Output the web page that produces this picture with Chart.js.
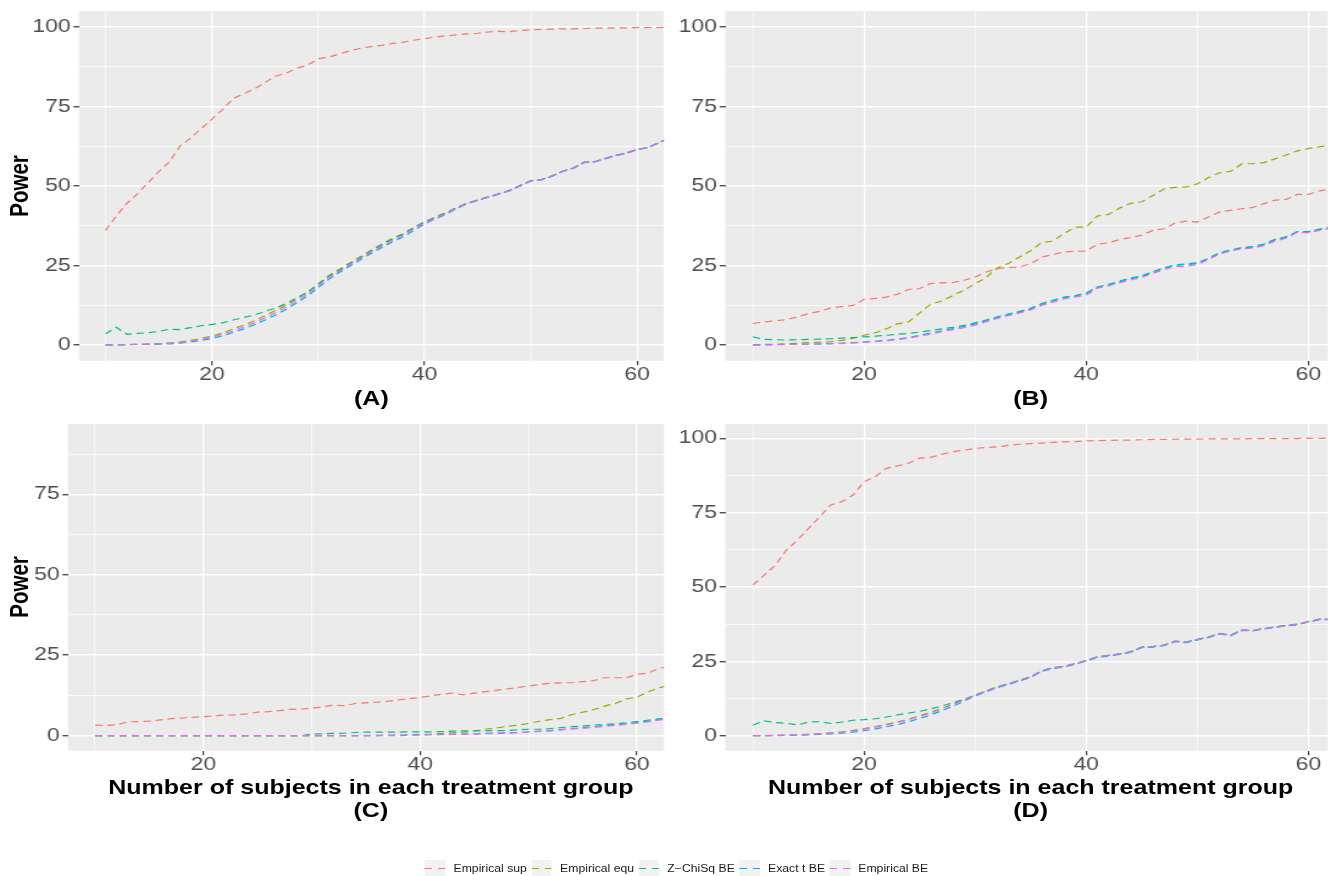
<!DOCTYPE html>
<html><head><meta charset="utf-8">
<script src="https://cdn.jsdelivr.net/npm/chart.js@4.4.0/dist/chart.umd.min.js"></script>
<style>
html,body{margin:0;padding:0;background:#fff;overflow:hidden;width:1328px;height:876px;}
#wrap{position:absolute;left:0;top:0;width:1088.5px;height:876px;transform:scaleX(1.22);transform-origin:0 0;font-family:"Liberation Sans",Arial,Helvetica,sans-serif;}
canvas{position:absolute;}
.t{position:absolute;white-space:nowrap;font-weight:bold;color:#000;font-size:20.5px;line-height:20.5px;transform:translate(-50%,-50%);}
.rot{transform:translate(-50%,-50%) rotate(-90deg);}
#legend{position:absolute;top:859px;left:348.4px;display:flex;align-items:center;height:18px;font-size:10px;color:#1a1a1a;white-space:nowrap;}
.key{width:16.4px;height:17px;background:#f2f2f2;position:relative;flex:none;}
.key i{position:absolute;left:0;right:0;top:8px;height:1.3px;}
.lab{margin-left:7px;margin-right:3.9px;}
</style></head>
<body>
<div id="wrap">
  <canvas id="cA" width="546" height="420" style="left:0px;top:0px;width:546px;height:420px"></canvas>
  <canvas id="cB" width="541" height="420" style="left:548px;top:0px;width:541px;height:420px"></canvas>
  <canvas id="cC" width="546" height="420" style="left:0px;top:410px;width:546px;height:420px"></canvas>
  <canvas id="cD" width="541" height="420" style="left:548px;top:410px;width:541px;height:420px"></canvas>
  <div class="t rot" style="left:15.6px;top:185.9px">Power</div>
  <div class="t rot" style="left:15.6px;top:587.3px">Power</div>
  <div class="t" style="left:304.4px;top:398px">(A)</div>
  <div class="t" style="left:844.8px;top:398px">(B)</div>
  <div class="t" style="left:304px;top:787px">Number of subjects in each treatment group</div>
  <div class="t" style="left:304px;top:810px">(C)</div>
  <div class="t" style="left:844.8px;top:787px">Number of subjects in each treatment group</div>
  <div class="t" style="left:844.8px;top:810px">(D)</div>
  <div id="legend"></div>
</div>
<script>
const xs = [10,11,12,13,14,15,16,17,18,19,20,21,22,23,24,25,26,27,28,29,30,31,32,33,34,35,36,37,38,39,40,41,42,43,44,45,46,47,48,49,50,51,52,53,54,55,56,57,58,59,60,61,62,63];
const seriesNames = ['Empirical sup','Empirical equ','Z\u2212ChiSq BE','Exact t BE','Empirical BE'];
const colors = ['#F8766D','#A3A500','#00BF7D','#00B0F6','#E76BF3'];
const xTicks = [10,20,30,40,50,60];
const yTicks = [0,12.5,25,37.5,50,62.5,75,87.5,100];

const A_sup = [36,40.5,44.5,47.5,51,54.5,57.5,62.5,65,68, 71,74,77.5,79,80.5,82.5,84.5,85.5,87,88, 90,90.5,91.5,92.5,93.3,93.8,94.2,94.8,95.2,95.8, 96.3,96.8,97.2,97.5,97.8,98,98.4,98.6,98.5,98.9, 99.1,99.2,99.3,99.4,99.4,99.5,99.6,99.6,99.7,99.7, 99.8,99.8,99.8,99.9];
const A_equ = [0,0,0.1,0.2,0.3,0.4,0.6,0.9,1.4,2, 2.8,3.7,5,6.2,7.6,9.2,10.8,12.5,14.5,16.5, 19.2,21.8,23.8,25.8,27.8,29.8,31.8,33.6,35,37, 38.8,40.2,41.6,43.2,44.6,45.6,46.6,47.6,48.6,50.2, 51.6,52,53.2,54.6,55.6,57.4,57.6,58.6,59.6,60.2, 61.5,62,63.5,65];
const A_z = [3.5,5.5,3.3,3.6,3.8,4.2,4.9,4.8,5.4,6, 6.4,6.9,7.8,8.6,9.4,10.5,11.6,13,14.8,16.6, 19,21.5,23.5,25.5,27.5,29.5,31.5,33.3,34.8,36.8, 38.6,40,41.4,43.1,44.5,45.5,46.5,47.5,48.5,50.1, 51.6,52,53.1,54.6,55.6,57.4,57.6,58.6,59.6,60.3, 61.5,62,63.5,65];
const A_t = [0,0,0,0.1,0.1,0.2,0.3,0.5,0.9,1.4, 2,2.8,3.9,5,6.3,7.8,9.4,11.2,13.2,15.4, 18,20.6,22.8,24.8,26.8,28.8,30.6,32.4,34,36, 38,39.6,41,42.8,44.4,45.4,46.4,47.4,48.6,50, 51.6,51.9,53,54.6,55.6,57.4,57.6,58.6,59.6,60.4, 61.5,62,63.6,65];
const A_be = [0,0,0.1,0.1,0.2,0.3,0.5,0.7,1.1,1.7, 2.4,3.3,4.4,5.6,6.9,8.5,10.1,11.9,13.9,16, 18.6,21.2,23.2,25.2,27.2,29.2,31,32.8,34.4,36.4, 38.4,39.8,41.3,43,44.5,45.5,46.5,47.5,48.4,50, 51.5,52,53.1,54.5,55.5,57.3,57.5,58.5,59.5,60.3, 61.4,62,63.5,65];

const B_sup = [6.7,7.2,7.6,7.9,8.8,9.8,10.5,11.6,12,12.4, 14.3,14.6,15,15.9,17.4,17.7,19.3,19.5,19.6,20.3, 21.3,22.9,24,24.3,24.5,25.5,27.6,28.4,29.2,29.4, 29.5,31.6,32.1,33.1,33.7,34.5,36,36.5,38.3,38.9, 38.6,40.2,41.8,42.3,42.8,43.2,44.4,45.5,45.7,47.3, 47.3,48.4,49,49.5];
const B_equ = [0,0.1,0.2,0.3,0.5,0.7,0.8,1,1.4,2, 3,3.8,5,6.6,7.2,10,12.8,13.8,15.5,17.2, 19.2,21.2,24.2,25.6,27.6,29.6,32.2,32.6,35,37, 37,40.5,41,43,44.5,45,47,49,49.5,49.7, 50.6,52.6,54.1,54.6,56.9,57,57.3,58.5,59.7,61, 61.7,62.3,62.8,63.5];
const B_z = [2.5,1.7,1.6,1.5,1.6,1.7,1.8,1.9,2.1,2.3, 2.5,2.7,3,3.3,3.6,4,4.5,5,5.5,6.1, 6.9,7.8,8.8,9.7,10.5,11.5,13,14,15,15.5, 16.3,18.2,19,20,21,21.7,23,24.2,25.2,25.4, 25.8,27.2,29,29.8,30.6,30.9,31.7,33.2,34,35.6, 35.6,36.4,37.1,37.6];
const B_t = [0,0,0.1,0.1,0.2,0.2,0.3,0.4,0.5,0.7, 0.9,1.1,1.4,1.8,2.3,3,3.7,4.4,5.1,5.8, 6.6,7.6,8.6,9.5,10.3,11.3,12.8,13.8,14.8,15.3, 16.1,18,18.8,19.8,20.8,21.5,22.8,24,25,25.2, 25.6,27,28.8,29.6,30.4,30.7,31.5,33,33.8,35.4, 35.4,36.2,36.9,37.4];
const B_be = [0,0,0,0.1,0.1,0.2,0.2,0.3,0.4,0.6, 0.8,1,1.3,1.6,2.1,2.7,3.4,4.1,4.8,5.4, 6.2,7.3,8.3,9.2,10,11,12.4,13.4,14.4,15, 15.6,17.8,18.5,19.5,20.4,21.2,22.5,23.6,24.6,24.6, 25.3,26.8,28.6,29.5,30.2,30.4,31.2,32.6,33.5,35.4, 35.2,36,36.6,37.2];

const C_sup = [3.3,3.2,3.4,4.3,4.4,4.5,4.9,5.3,5.5,5.7, 5.9,6.2,6.4,6.5,6.8,7.3,7.5,7.8,8.2,8.3, 8.5,9,9.5,9.3,10,10.2,10.4,10.7,11.1,11.5, 11.9,12.4,12.9,13.2,12.7,13.2,13.7,14.1,14.5,15, 15.4,15.9,16.3,16.4,16.5,16.8,17.1,18,18,18, 19.1,19.4,20.9,21.5];
const C_equ = [0,0,0,0,0,0,0,0,0,0, 0,0,0,0,0,0,0,0,0,0, 0,0,0,0,0,0,0,0,0,0.2, 0.4,0.5,0.7,0.9,1.1,1.5,2,2.4,2.9,3.3, 3.8,4.5,5,5.4,6.6,7.3,8.1,9.2,10,11.4, 12,13.6,14.9,15.6];
const C_z = [0,0,0,0,0,0,0,0,0,0, 0,0,0,0,0,0,0,0,0,0, 0.5,0.6,0.7,0.8,1,1.1,1.1,1.1,1.1,1.2, 1.2,1.2,1.3,1.4,1.5,1.5,1.5,1.6,1.6,1.8, 2,2,2.2,2.5,2.8,3,3.3,3.5,3.7,4, 4.4,4.8,5.2,5.6];
const C_t = [0,0,0,0,0,0,0,0,0,0, 0,0,0,0,0,0,0,0,0,0, 0,0,0,0,0,0.05,0.1,0.1,0.2,0.2, 0.3,0.3,0.4,0.4,0.5,0.6,0.7,0.8,0.9,1, 1.2,1.4,1.6,1.9,2.2,2.5,2.8,3.1,3.4,3.7, 4.1,4.5,5,5.5];
const C_be = [0,0,0,0,0,0,0,0,0,0, 0,0,0,0,0,0,0,0,0,0, 0,0,0,0,0,0,0.05,0.1,0.1,0.2, 0.2,0.3,0.3,0.4,0.5,0.5,0.6,0.7,0.8,0.9, 1.1,1.3,1.5,1.8,2.1,2.3,2.6,2.9,3.2,3.5, 3.9,4.3,4.8,5.3];

const D_sup = [50.7,54,57.3,62.4,65.8,69.7,73.6,77.6,78.7,80.9, 85.4,87.1,89.9,90.7,91.6,93.3,93.6,94.6,95.5,96, 96.6,96.9,97.1,97.6,98,98.2,98.4,98.6,98.8,98.9, 99.1,99.2,99.3,99.4,99.4,99.5,99.6,99.6,99.7,99.7, 99.7,99.8,99.8,99.8,99.8,99.9,99.9,99.9,99.9,99.9, 100,100,100,100];
const D_equ = [0,0.05,0.1,0.2,0.3,0.5,0.7,1,1.3,1.8, 2.4,3.1,3.8,4.6,5.6,6.7,7.9,9.2,10.7,12.2, 13.7,15.1,16.5,17.5,18.7,19.9,21.9,22.9,23.3,24.3, 25.3,26.5,27,27.5,28.2,29.8,30,30.5,31.8,31.4, 32.3,33.1,34.3,33.7,35.5,35.3,36,36.5,37,37.4, 38.3,39.1,39.1,38.9];
const D_z = [3.6,5,4.4,4.2,3.6,4.6,4.7,4.1,4.6,5.2, 5.4,5.7,6.3,7,7.6,8.2,9,10,11.1,12.2, 13.6,15,16.4,17.4,18.6,19.8,21.8,22.8,23.3,24.2, 25.3,26.5,27,27.5,28.2,29.8,30,30.5,31.8,31.5, 32.4,33.2,34.4,33.8,35.6,35.4,36.1,36.6,37.1,37.5, 38.4,39.2,39.2,39];
const D_t = [0,0,0.05,0.1,0.15,0.25,0.4,0.6,0.9,1.2, 1.7,2.3,3,3.7,4.7,5.8,7,8.4,9.9,11.6, 13.4,14.8,16.2,17.2,18.4,19.6,21.6,22.6,23.1,24, 25.1,26.3,26.8,27.3,28,29.6,29.8,30.3,31.6,31.3, 32.2,33,34.2,33.6,35.4,35.2,35.9,36.4,36.9,37.3, 38.2,39,39,38.8];
const D_be = [0,0.05,0.1,0.2,0.3,0.4,0.6,0.9,1.2,1.6, 2.2,2.9,3.6,4.4,5.4,6.5,7.6,9,10.5,12, 13.6,15,16.4,17.4,18.6,19.8,21.8,22.8,23.2,24.2, 25.3,26.5,27,27.5,28.2,29.8,30,30.4,31.8,31.4, 32.3,33.1,34.3,33.7,35.5,35.3,36,36.5,37,37.4, 38.3,39.1,39.1,38.9];

const FONT = '"Liberation Sans", Arial, Helvetica, sans-serif';
const bgPlugin = {id:'bg', beforeDraw(chart){const {ctx, chartArea:a}=chart; ctx.save(); ctx.fillStyle='#EBEBEB'; ctx.fillRect(a.left,a.top,a.right-a.left,a.bottom-a.top); ctx.restore();}};
const isMajX = v => v % 20 === 0;
const isMajY = v => v % 25 === 0;

function makePanel(id, series, o){
  new Chart(document.getElementById(id), {
    type:'line',
    data:{datasets: series.map((s,i)=>({
      label: seriesNames[i],
      data: xs.map((x,j)=>({x:x, y:s[j]})),
      borderColor: colors[i], borderWidth:1.2, borderDash:[6,4],
      pointRadius:0, fill:false, tension:0, clip:0, order:5-i
    }))},
    options:{
      responsive:false, animation:false, events:[],
      layout:{padding:{top:o.padTop, right:o.padRight, left:0, bottom:0}},
      plugins:{legend:{display:false}, tooltip:{enabled:false}},
      scales:{
        x:{type:'linear', min:7.5, max:o.xmax,
          afterBuildTicks: s=>{ s.ticks = xTicks.filter(v=>v<=o.xmax).map(v=>({value:v})); },
          afterFit: s=>{ s.height = o.xh; s.paddingLeft=0; s.paddingRight=0; },
          ticks:{autoSkip:false, maxRotation:0, minRotation:0, padding:0,
            callback: v => isMajX(v) ? String(v) : '',
            font:{family:FONT, size:18.8, lineHeight:1.0}, color:'#4D4D4D'},
          grid:{color:'#FFFFFF', lineWidth: c => (c.tick && isMajX(c.tick.value)) ? 1.3 : 0.65,
            tickColor: c => (c.tick && isMajX(c.tick.value)) ? '#333333' : 'rgba(0,0,0,0)',
            tickLength:4.6, tickWidth:1.1},
          border:{display:false}
        },
        y:{type:'linear', min:o.ymin, max:o.ymax,
          afterBuildTicks: s=>{ s.ticks = yTicks.filter(v=>v<=o.ymax).map(v=>({value:v})); },
          afterFit: s=>{ s.width = o.yw; s.paddingTop=0; s.paddingBottom=0; },
          ticks:{autoSkip:false, padding:2.2,
            callback: v => isMajY(v) ? String(v) : '',
            font:{family:FONT, size:18.8, lineHeight:1.0}, color:'#4D4D4D'},
          grid:{color:'#FFFFFF', lineWidth: c => (c.tick && isMajY(c.tick.value)) ? 1.5 : 0.75,
            tickColor: c => (c.tick && isMajY(c.tick.value)) ? '#333333' : 'rgba(0,0,0,0)',
            tickLength:4.6, tickWidth:1.2},
          border:{display:false}
        }
      }
    },
    plugins:[bgPlugin]
  });
}

makePanel('cA', [A_sup,A_equ,A_z,A_t,A_be], {padTop:11, padRight:1.9, xh:59.3, yw:64.75, xmax:62.5, ymin:-5, ymax:105});
makePanel('cB', [B_sup,B_equ,B_z,B_t,B_be], {padTop:11, padRight:0.5, xh:59.3, yw:46.5, xmax:61.77, ymin:-5, ymax:105});
makePanel('cC', [C_sup,C_equ,C_z,C_t,C_be], {padTop:14, padRight:1.7, xh:79.3, yw:55.74, xmax:62.5, ymin:-4.66, ymax:96.84});
makePanel('cD', [D_sup,D_equ,D_z,D_t,D_be], {padTop:14, padRight:0.5, xh:79.3, yw:46.5, xmax:61.77, ymin:-5.04, ymax:104.8});

const lg = document.getElementById('legend');
seriesNames.forEach((n,i)=>{
  const k = document.createElement('div'); k.className='key';
  const c = colors[i];
  k.innerHTML = '<i style="background:linear-gradient(to right,'+c+' 0 35%,transparent 35% 65%,'+c+' 65% 100%)"></i>';
  const l = document.createElement('span'); l.className='lab'; l.textContent = n;
  lg.appendChild(k); lg.appendChild(l);
});
</script>
</body></html>
